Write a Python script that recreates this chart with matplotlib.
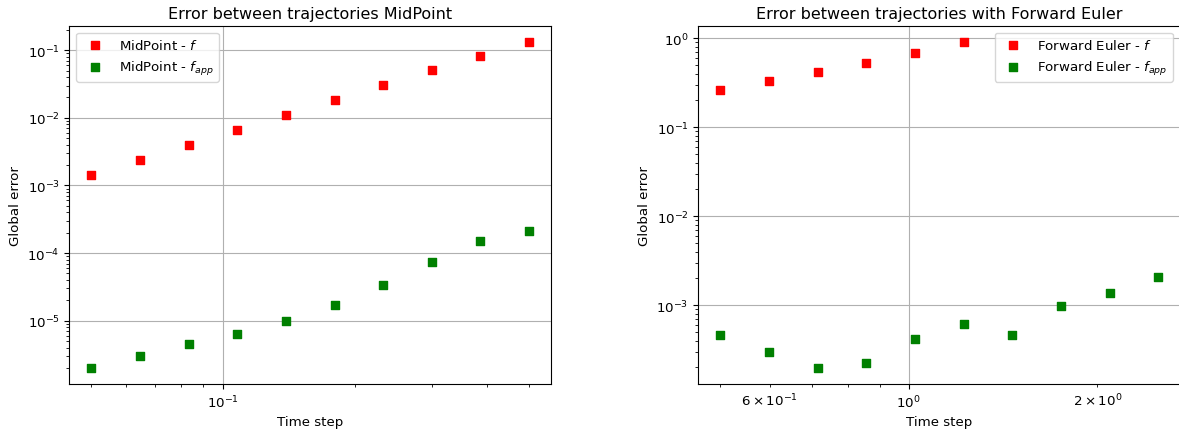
import matplotlib
matplotlib.use("Agg")
import matplotlib.pyplot as plt

plt.rcParams['font.size'] = 9.6

# time steps used for each scheme
dt_mid = [0.05, 0.0646, 0.0834, 0.1077, 0.139, 0.1797, 0.232, 0.2997, 0.387, 0.5]
dt_fe = [0.5, 0.598, 0.7153, 0.8555, 1.0233, 1.224, 1.464, 1.7511, 2.0945, 2.5]

# global errors, MidPoint
err_mid_f = [1.44e-3, 2.39e-3, 3.99e-3, 6.65e-3, 1.11e-2, 1.85e-2, 3.04e-2, 5.01e-2, 8.34e-2, 0.131]
err_mid_fapp = [2.02e-6, 3.04e-6, 4.52e-6, 6.43e-6, 9.78e-6, 1.69e-5, 3.33e-5, 7.36e-5, 1.49e-4, 2.14e-4]

# global errors, Forward Euler (f only defined for the first six steps)
err_fe_f = [0.264, 0.331, 0.418, 0.532, 0.689, 0.902]
err_fe_fapp = [4.64e-4, 2.99e-4, 1.98e-4, 2.23e-4, 4.15e-4, 6.17e-4, 4.6e-4, 9.9e-4, 1.37e-3, 2.06e-3]

fig = plt.figure(figsize=(11.79, 4.31), dpi=100)
ax1 = fig.add_axes([0.0589, 0.1067, 0.4084, 0.8307])
ax2 = fig.add_axes([0.5923, 0.1067, 0.4084, 0.8307])

ax1.scatter(dt_mid, err_mid_f, marker='s', color='red', label='MidPoint - $f$', zorder=3)
ax1.scatter(dt_mid, err_mid_fapp, marker='s', color='green', label='MidPoint - $f_{app}$', zorder=3)
ax1.set_xscale('log')
ax1.set_yscale('log')
ax1.grid(True)
ax1.set_title('Error between trajectories MidPoint')
ax1.set_xlabel('Time step', labelpad=3)
ax1.set_ylabel('Global error')
ax1.legend(loc='upper left')

ax2.scatter(dt_fe[:len(err_fe_f)], err_fe_f, marker='s', color='red', label='Forward Euler - $f$', zorder=3)
ax2.scatter(dt_fe, err_fe_fapp, marker='s', color='green', label='Forward Euler - $f_{app}$', zorder=3)
ax2.set_xscale('log')
ax2.set_yscale('log')
ax2.grid(True)
ax2.set_title('Error between trajectories with Forward Euler')
ax2.set_xlabel('Time step', labelpad=3)
ax2.set_ylabel('Global error')
ax2.legend(loc='upper right')

fig.savefig('out.png', dpi=100)
